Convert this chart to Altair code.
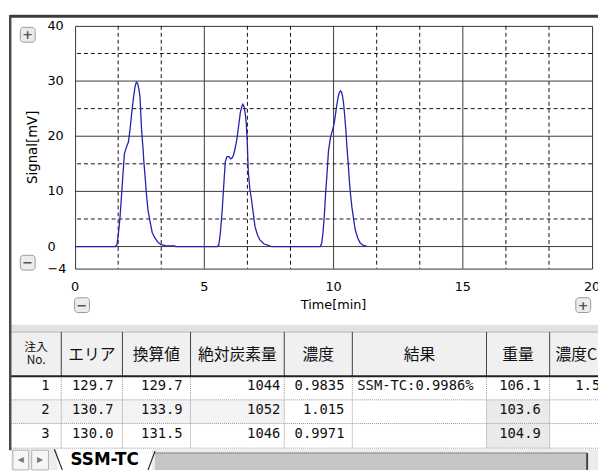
import altair as alt
import pandas as pd

# ---------------- data ----------------
time_min = [0.0, 1.55, 1.62, 1.68, 1.74, 1.80, 1.85, 1.91, 2.00, 2.06,
            2.12, 2.19, 2.26, 2.32, 2.37, 2.42, 2.47, 2.51, 2.57, 2.63,
            2.66, 2.72, 2.76, 2.82, 2.89, 2.98, 3.08, 3.20, 3.32, 3.50,
            3.84, 3.90,
            5.50, 5.56, 5.62, 5.69, 5.75, 5.81, 5.88, 5.95, 6.02, 6.08,
            6.13, 6.20, 6.26, 6.33, 6.39, 6.45, 6.49, 6.54, 6.58, 6.62,
            6.66, 6.70, 6.76, 6.83, 6.90, 6.96, 7.05, 7.15, 7.30, 7.47,
            7.60,
            9.48, 9.54, 9.59, 9.64, 9.69, 9.75, 9.80, 9.88, 9.97, 10.03,
            10.08, 10.13, 10.18, 10.23, 10.27, 10.31, 10.35, 10.39, 10.43, 10.48,
            10.52, 10.57, 10.61, 10.66, 10.71, 10.78, 10.84, 10.93, 11.03, 11.15,
            11.29]
signal_mv = [0, 0, 0.3, 2.5, 5.4, 9.5, 13.0, 16.9, 18.2, 18.9,
             21.0, 24.2, 27.0, 29.0, 29.8, 29.6, 28.5, 27.2, 21.3, 17.7,
             15.4, 12.0, 9.5, 6.6, 4.8, 2.6, 1.6, 0.8, 0.35, 0.15,
             0.1, 0,
             0, 0.3, 2.5, 6.5, 11.0, 15.4, 16.3, 16.3, 15.9, 16.1,
             16.6, 18.0, 19.5, 22.0, 24.2, 25.4, 25.8, 25.3, 24.2, 22.5,
             19.0, 13.6, 10.5, 8.3, 5.8, 3.6, 2.2, 1.2, 0.5, 0.2,
             0,
             0, 0.6, 2.5, 5.5, 9.5, 13.5, 17.2, 19.8, 21.3, 22.5,
             24.2, 25.8, 27.2, 28.0, 28.2, 28.0, 27.2, 25.8, 23.7, 20.8,
             17.8, 14.8, 11.9, 9.3, 7.1, 4.8, 3.0, 1.6, 0.65, 0.2,
             0.05]

x_ticks = [0, 5, 10, 15, 20]
y_ticks = [40, 30, 20, 10, 0, -4]
x_major = [5, 10, 15]
x_minor = [1.667, 3.333, 6.667, 8.333, 11.667, 13.333, 16.667, 18.333]
y_major = [0, 10, 20, 30]
y_minor = [5, 15, 25, 35]
x_title = "Time[min]"
y_title = "Signal[mV]"

headers = ["注入\nNo.", "エリア", "換算値", "絶対炭素量", "濃度", "結果", "重量", "濃度C"]
inj_no = ["1", "2", "3"]
area = ["129.7", "130.7", "130.0"]
converted = ["129.7", "133.9", "131.5"]
abs_carbon = ["1044", "1052", "1046"]
conc = ["0.9835", "1.015", "0.9971"]
result = ["SSM-TC:0.9986%", "", ""]
weight = ["106.1", "103.6", "104.9"]
conc_c = ["1.58", "", ""]
tab_name = "SSM-TC"

# ---------------- layout (not data) ----------------
W, H = 524, 246
TAB_X0, TAB_Y0 = -65, 310          # table origin relative to the plot area
col_w = [51, 62, 69, 95, 69, 136, 64, 46]
col_align = ["right", "right", "right", "right", "right", "left", "right", "left"]
col_pad = [12, 9, 8, 4, 8, 5, 9, 26]
row_h = [45, 24, 24, 25]
bx = [TAB_X0]
for w in col_w:
    bx.append(bx[-1] + w)
by = [TAB_Y0]
for h in row_h:
    by.append(by[-1] + h)
RIGHT = bx[-1] + 20

FONT = "DejaVu Sans"
JP = "Noto Sans CJK JP"
MONO = "DejaVu Sans Mono"

# ---------------- plot ----------------
XS = alt.Scale(domain=[0, 20], nice=False, zero=False)
YS = alt.Scale(domain=[-4, 40], nice=False, zero=False)

vmaj = alt.Chart(pd.DataFrame({"x": x_major})).mark_rule(color="#3a3a3a", strokeWidth=1).encode(
    x=alt.X("x:Q", scale=XS, axis=None))
vmin = alt.Chart(pd.DataFrame({"x": x_minor})).mark_rule(color="#111", strokeWidth=1, strokeDash=[4, 3]).encode(
    x=alt.X("x:Q", scale=XS, axis=None))
hmaj = alt.Chart(pd.DataFrame({"y": y_major})).mark_rule(color="#3a3a3a", strokeWidth=1).encode(
    y=alt.Y("y:Q", scale=YS, axis=None))
hmin = alt.Chart(pd.DataFrame({"y": y_minor})).mark_rule(color="#111", strokeWidth=1, strokeDash=[4, 3]).encode(
    y=alt.Y("y:Q", scale=YS, axis=None))

sig = pd.DataFrame({"t": time_min, "v": signal_mv})
line = alt.Chart(sig).mark_line(color="#2222b0", strokeWidth=1.3, clip=True).encode(
    x=alt.X("t:Q", scale=XS, axis=None),
    y=alt.Y("v:Q", scale=YS, axis=None),
    order="t:Q")

# tick labels drawn through the same scales
xlab = alt.Chart(pd.DataFrame({"v": x_ticks, "s": [str(v) for v in x_ticks]})).mark_text(
    font=FONT, fontSize=13, color="#000", align="center", baseline="middle").encode(
    x=alt.X("v:Q", scale=XS, axis=None), y=alt.value(H + 19), text="s:N")
ylab = alt.Chart(pd.DataFrame({"v": y_ticks, "s": [str(v).replace("-", "−") for v in y_ticks]})).mark_text(
    font=FONT, fontSize=13, color="#000", align="left", baseline="middle").encode(
    y=alt.Y("v:Q", scale=YS, axis=None), x=alt.value(-28), text="s:N")

# ---------------- table (pixel layout, identity scales) ----------------
PX = dict(scale=None, axis=None)

rects = pd.DataFrame([
    {"x": bx[0], "x2": RIGHT, "y": by[0], "y2": by[1], "f": "#f0f0f0"},
    {"x": bx[0], "x2": bx[4], "y": by[2], "y2": by[3], "f": "#f3f3f3"},
    {"x": bx[6], "x2": bx[7], "y": by[2], "y2": by[4], "f": "#eaeaea"},
])
t_rect = alt.Chart(rects).mark_rect().encode(
    x=alt.X("x:Q", **PX), x2="x2:Q", y=alt.Y("y:Q", **PX), y2="y2:Q",
    fill=alt.Fill("f:N", scale=None))

hsep = pd.DataFrame({"x": bx[1:8], "y": [by[0]] * 7, "y2": [by[1]] * 7})
t_hsep = alt.Chart(hsep).mark_rule(color="#404040", strokeWidth=1).encode(
    x=alt.X("x:Q", **PX), y=alt.Y("y:Q", **PX), y2="y2:Q")
dsep = pd.DataFrame({"x": bx[1:8], "y": [by[1]] * 7, "y2": [by[4]] * 7})
t_dsep = alt.Chart(dsep).mark_rule(color="#9a9a9a", strokeWidth=1, strokeDash=[1, 1]).encode(
    x=alt.X("x:Q", **PX), y=alt.Y("y:Q", **PX), y2="y2:Q")
rsep = pd.DataFrame({"y": [by[2], by[3], by[4]], "x": [bx[0]] * 3, "x2": [RIGHT] * 3})
t_rsep = alt.Chart(rsep).mark_rule(color="#9a9a9a", strokeWidth=1, strokeDash=[1, 1]).encode(
    y=alt.Y("y:Q", **PX), x=alt.X("x:Q", **PX), x2="x2:Q")
t_top = alt.Chart(pd.DataFrame({"y": [by[0]], "x": [bx[0]], "x2": [RIGHT]})).mark_rule(
    color="#777", strokeWidth=1).encode(y=alt.Y("y:Q", **PX), x=alt.X("x:Q", **PX), x2="x2:Q")
t_hb = alt.Chart(pd.DataFrame({"y": [by[1]], "x": [bx[0]], "x2": [RIGHT]})).mark_rule(
    color="#222", strokeWidth=2).encode(y=alt.Y("y:Q", **PX), x=alt.X("x:Q", **PX), x2="x2:Q")

hdr_rows = []
for c, h in enumerate(headers):
    if c == 0:
        continue
    if c == len(headers) - 1:
        hdr_rows.append({"x": bx[c] + 6, "y": by[0] + 24, "t": h, "a": "left"})
    else:
        hdr_rows.append({"x": (bx[c] + bx[c + 1]) / 2, "y": by[0] + 24, "t": h, "a": "center"})
hdr = pd.DataFrame(hdr_rows)
t_hdr_c = alt.Chart(hdr[hdr.a == "center"]).mark_text(
    font=JP, fontSize=16, color="#111", align="center", baseline="middle").encode(
    x=alt.X("x:Q", **PX), y=alt.Y("y:Q", **PX), text="t:N")
t_hdr_l = alt.Chart(hdr[hdr.a == "left"]).mark_text(
    font=JP, fontSize=16, color="#111", align="left", baseline="middle").encode(
    x=alt.X("x:Q", **PX), y=alt.Y("y:Q", **PX), text="t:N")
hdr0 = pd.DataFrame({"x": [(bx[0] + bx[1]) / 2], "y": [by[0] + 15], "t": [headers[0]]})
t_hdr0 = alt.Chart(hdr0).mark_text(font=JP, fontSize=12, lineHeight=14, lineBreak="\n", color="#111",
                                   align="center", baseline="middle").encode(
    x=alt.X("x:Q", **PX), y=alt.Y("y:Q", **PX), text="t:N")

columns = [inj_no, area, converted, abs_carbon, conc, result, weight, conc_c]
cells = []
for c, vals in enumerate(columns):
    for r, v in enumerate(vals):
        if v == "":
            continue
        yc = (by[r + 1] + by[r + 2]) / 2 - 1.5
        if col_align[c] == "right":
            cells.append({"x": bx[c + 1] - col_pad[c], "y": yc, "t": v, "a": "right"})
        else:
            cells.append({"x": bx[c] + col_pad[c], "y": yc, "t": v, "a": "left"})
cells = pd.DataFrame(cells)
t_cell_r = alt.Chart(cells[cells.a == "right"]).mark_text(
    font=MONO, fontSize=14, color="#111", align="right", baseline="middle").encode(
    x=alt.X("x:Q", **PX), y=alt.Y("y:Q", **PX), text="t:N")
t_cell_l = alt.Chart(cells[cells.a == "left"]).mark_text(
    font=MONO, fontSize=14, color="#111", align="left", baseline="middle").encode(
    x=alt.X("x:Q", **PX), y=alt.Y("y:Q", **PX), text="t:N")

table = [t_rect, t_top, t_hsep, t_dsep, t_rsep, t_hb, t_hdr0, t_hdr_c, t_hdr_l, t_cell_r, t_cell_l]

# ---------------- window chrome ----------------
one = pd.DataFrame({"k": [0]})


def box(x1, y1, x2, y2, fill, stroke="", sw=1.0, r=0):
    kw = dict(fill=fill, cornerRadius=r)
    if stroke:
        kw.update(stroke=stroke, strokeWidth=sw)
    return alt.Chart(one).mark_rect(**kw).encode(
        x=alt.value(x1), x2=alt.value(x2), y=alt.value(y1), y2=alt.value(y2))


def seg(x1, y1, x2, y2, color, sw=1.0):
    return alt.Chart(one).mark_rule(color=color, strokeWidth=sw).encode(
        x=alt.value(x1), x2=alt.value(x2), y=alt.value(y1), y2=alt.value(y2))


def label(x, y, s, size=13, color="#555", weight="bold", font=FONT, align="center", angle=0):
    return alt.Chart(one).mark_text(text=s, fontSize=size, color=color, fontWeight=weight, font=font,
                                    align=align, baseline="middle", angle=angle).encode(
        x=alt.value(x), y=alt.value(y))


def button(cx, cy, s):
    return [box(cx - 7.5, cy - 7.5, cx + 7.5, cy + 7.5, "#ececec", "#9a9a9a", 1, 3),
            label(cx, cy + 0.5, s, 13, "#555")]


chrome = []
chrome.append(label(W / 2, 283, x_title, 13, "#000", "normal"))
chrome.append(label(-43, H / 2, y_title, 13.5, "#000", "normal", angle=270))
chrome.append(box(-65, 303, 532, 310, "#e2e2e2"))
chrome += button(-48, 9, "+")
chrome += button(-48, 240, "−")
chrome += button(7, 283, "−")
chrome += button(515, 283, "+")
# tab bar
chrome.append(box(-65, 429, 532, 450, "#ececec"))
chrome.append(box(-63, 430, -47, 450, "#f6f6f6", "#b0b0b0", 1))
chrome.append(box(-44, 430, -27, 450, "#f6f6f6", "#b0b0b0", 1))
chrome.append(label(-55, 440, "◀", 8, "#777", "normal"))
chrome.append(label(-35.5, 440, "▶", 8, "#777", "normal"))
chrome.append(box(81, 433, 519, 450, "#c6c6c6"))
chrome.append(box(81, 432.5, 519, 433.5, "#808080"))
chrome.append(box(518, 433, 520, 450, "#444444"))
chrome.append(box(-18, 429, 78, 450, "#ffffff"))
chrome.append(seg(-21, 429, -13, 450, "#222", 1.2))
chrome.append(seg(74, 450, 81, 431, "#222", 1.2))
chrome.append(label(30, 440, tab_name, 17, "#000", "bold"))
# outer frame
chrome.append(box(-66, -11, 532, -8.5, "#3c3c3c", "#3c3c3c", 0.5))
chrome.append(box(-67, -11, -64.5, 430, "#4a4a4a"))

chart = alt.layer(vmaj, vmin, hmaj, hmin, line, xlab, ylab, *table, *chrome).properties(
    width=W, height=H,
    padding={"left": 68, "top": 15, "right": 6, "bottom": 204},
    autosize=alt.AutoSizeParams(type="none"),
    background="white",
).configure_view(stroke="#333", strokeWidth=1)

chart.save("out.html", embed_options={"renderer": "svg", "actions": False})
